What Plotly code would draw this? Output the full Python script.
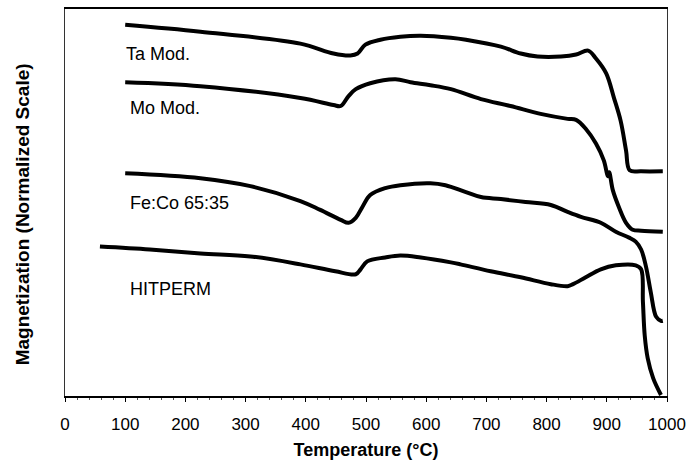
import plotly.graph_objects as go

# Temperature (°C) and magnetization (normalized, arbitrary units)
ta_T = [100, 225, 391, 446, 474, 486, 499, 524, 557, 591, 641, 666, 724, 757, 785, 824, 849, 869, 882, 899, 912, 923, 932, 938, 957, 993]
ta_M = [375, 368, 356, 346, 344, 346, 355, 360, 363, 364, 362, 360, 353, 346, 343, 343, 345, 349, 341, 326, 301, 278, 248, 228, 227, 227]

mo_T = [100, 225, 391, 446, 458, 471, 483, 507, 549, 574, 607, 641, 691, 740, 790, 835, 849, 865, 882, 895, 902, 904, 910, 920, 932, 943, 957, 993]
mo_M = [317, 313, 301, 294, 293, 303, 310, 316, 320, 317, 314, 310, 300, 293, 285, 280, 279, 270, 255, 238, 222, 226, 208, 191, 175, 168, 167, 166]

feco_T = [100, 225, 308, 391, 424, 458, 471, 483, 494, 507, 532, 557, 607, 632, 666, 691, 724, 765, 807, 835, 857, 890, 915, 937, 948, 957, 965, 973, 982, 990, 993]
feco_M = [225, 220, 212, 197, 188, 178, 175, 180, 191, 203, 210, 213, 215, 213, 206, 201, 199, 196, 193, 186, 181, 175, 166, 160, 156, 148, 131, 105, 80, 76, 76]

hit_T = [58, 141, 225, 308, 391, 449, 483, 491, 502, 532, 557, 591, 641, 657, 707, 757, 807, 835, 844, 865, 890, 915, 948, 957, 960, 963, 968, 977, 990]
hit_M = [151, 148, 144, 141, 133, 126, 123, 128, 136, 140, 142, 140, 135, 133, 126, 120, 113, 111, 113, 120, 128, 132, 132, 128, 95, 61, 38, 18, 1]

labels = ["Ta Mod.", "Mo Mod.", "Fe:Co 65:35", "HITPERM"]
label_T = [98, 105, 105, 105]
label_M = [346, 291, 195, 108]

x_ticks = list(range(0, 1001, 100))

fig = go.Figure()
for T, M, name in [(ta_T, ta_M, labels[0]), (mo_T, mo_M, labels[1]),
                   (feco_T, feco_M, labels[2]), (hit_T, hit_M, labels[3])]:
    fig.add_trace(go.Scatter(x=T, y=M, mode="lines", name=name,
                             line=dict(color="black", width=4, shape="spline", smoothing=1.0),
                             showlegend=False, hoverinfo="skip"))

for txt, tx, my in zip(labels, label_T, label_M):
    fig.add_annotation(x=tx, y=my, text=txt, showarrow=False, xanchor="left", yanchor="middle",
                       font=dict(family="Liberation Sans, Arial", size=18, color="black"))

fig.add_annotation(xref="paper", yref="paper", x=-0.071, y=0.47,
                   text="<b>Magnetization (Normalized Scale)</b>", textangle=-90,
                   showarrow=False, xanchor="center", yanchor="middle",
                   font=dict(family="Liberation Sans, Arial", size=19, color="black"))

fig.update_layout(
    width=700, height=464,
    margin=dict(l=65, r=33, t=7, b=66),
    paper_bgcolor="white", plot_bgcolor="white",
    font=dict(family="Liberation Sans, Arial", color="black"),
    xaxis=dict(range=[0, 1000], tickvals=x_ticks, ticktext=[str(v) for v in x_ticks],
               ticks="outside", ticklen=4, tickcolor="black", tickwidth=1,
               minor=dict(dtick=20, ticks="outside", ticklen=2, tickcolor="#555"),
               showline=True, linecolor="black", linewidth=1.5, mirror=True,
               showgrid=False, zeroline=False, ticklabelstandoff=8,
               tickfont=dict(size=17, family="Liberation Sans, Arial"),
               title=dict(text="<b>Temperature (°C)</b>", standoff=10,
                          font=dict(size=18, family="Liberation Sans, Arial"))),
    yaxis=dict(range=[0, 391], showticklabels=False, ticks="",
               showline=True, linecolor="#333", linewidth=1, mirror=True,
               showgrid=False, zeroline=False),
)

fig.write_html("out.html", config={"displayModeBar": False},
               post_script="document.body.style.margin='0';document.body.style.padding='0';")
